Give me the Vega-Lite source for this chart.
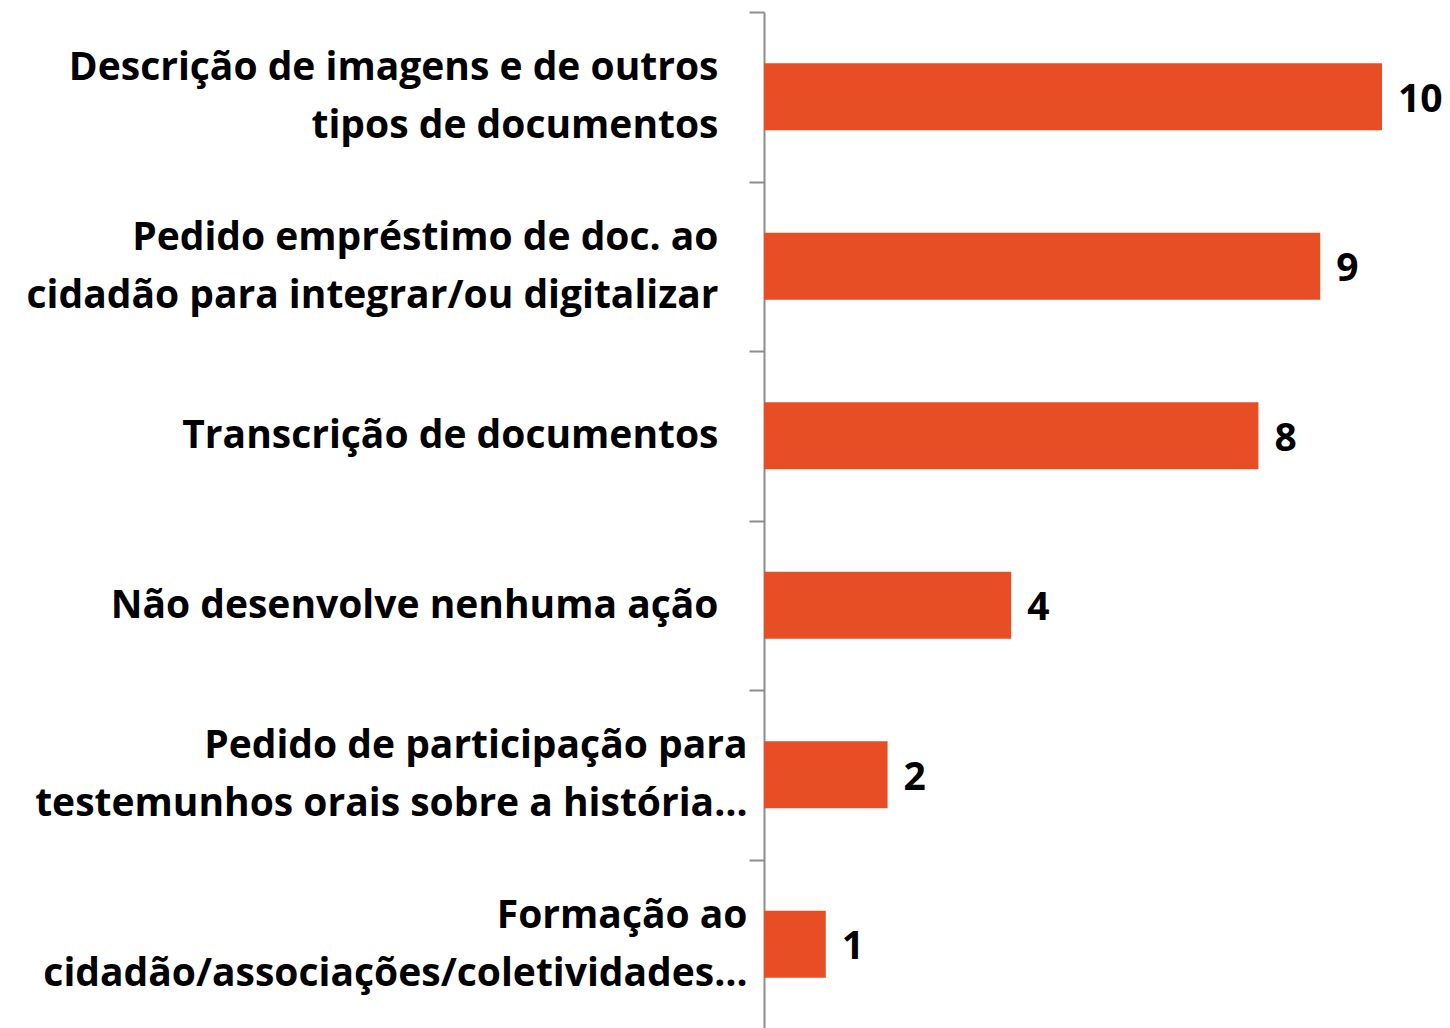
{
  "$schema": "https://vega.github.io/schema/vega-lite/v6.json",
  "width": 686,
  "height": 1017,
  "autosize": {"type": "none"},
  "padding": {"left": 764, "top": 12, "right": 0, "bottom": 0},
  "background": "white",
  "config": {"view": {"stroke": null}, "font": "Open Sans"},
  "data": {"values": [
    {"categoria": "Descrição de imagens e de outros|tipos de documentos", "valor": 10},
    {"categoria": "Pedido empréstimo de doc. ao|cidadão para integrar/ou digitalizar", "valor": 9},
    {"categoria": "Transcrição de documentos", "valor": 8},
    {"categoria": "Não desenvolve nenhuma ação", "valor": 4},
    {"categoria": "Pedido de participação para|testemunhos orais sobre a história…", "valor": 2},
    {"categoria": "Formação ao|cidadão/associações/coletividades…", "valor": 1}
  ]},
  "encoding": {
    "y": {
      "field": "categoria", "type": "nominal", "sort": null,
      "scale": {"paddingInner": 0, "paddingOuter": 0},
      "axis": {
        "title": null,
        "labelExpr": "split(datum.label, '|')",
        "labelFont": "Open Sans", "labelFontWeight": "bold", "labelFontSize": 39,
        "labelColor": "black", "labelLineHeight": 58, "labelAlign": "right",
        "labelBaseline": "middle",
        "labelOffset": {"condition": {"test": "indexof(datum.label, '|') >= 0", "value": -29}, "value": 0},
        "labelPadding": {"condition": {"test": "indexof(datum.label, '…') >= 0", "value": 2}, "value": 31},
        "labelLimit": 900,
        "tickBand": "extent", "tickSize": 15, "tickColor": "#8c8c8c", "tickWidth": 2,
        "domainColor": "#8c8c8c", "domainWidth": 2
      }
    },
    "x": {
      "field": "valor", "type": "quantitative",
      "scale": {"domain": [0, 11.1], "nice": false},
      "axis": null
    }
  },
  "layer": [
    {"mark": {"type": "bar", "color": "#E84E25", "height": {"band": 0.395}}},
    {"mark": {"type": "text", "align": "left", "baseline": "middle", "dx": 16, "dy": 3, "font": "Open Sans", "fontWeight": "bold", "fontSize": 39, "color": "black"},
     "encoding": {"text": {"field": "valor", "type": "quantitative"}}}
  ]
}
